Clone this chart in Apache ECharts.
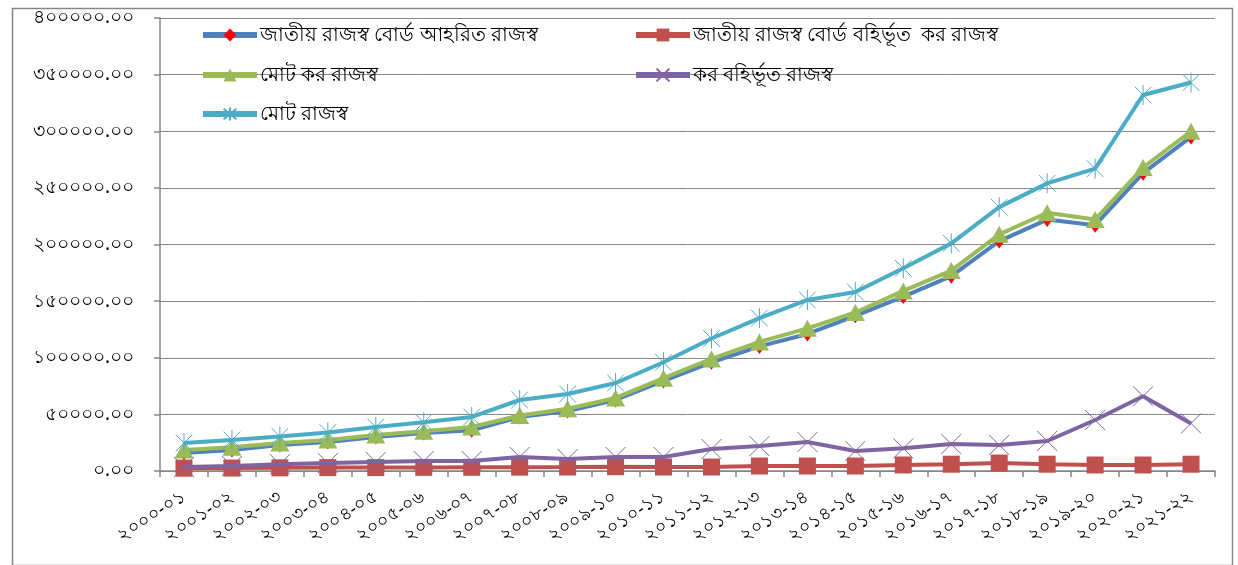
<!DOCTYPE html>
<html>
<head>
<meta charset="utf-8">
<script src="https://cdn.jsdelivr.net/npm/echarts@6/dist/echarts.min.js"></script>
<style>
  html, body { margin: 0; padding: 0; background: #fff; }
  #main { width: 1238px; height: 565px; }
</style>
</head>
<body>
<div id="main"></div>
<script>
var years = ['২০০০-০১', '২০০১-০২', '২০০২-০৩', '২০০৩-০৪', '২০০৪-০৫', '২০০৫-০৬', '২০০৬-০৭', '২০০৭-০৮',
  '২০০৮-০৯', '২০০৯-১০', '২০১০-১১', '২০১১-১২', '২০১২-১৩', '২০১৩-১৪', '২০১৪-১৫', '২০১৫-১৬',
  '২০১৬-১৭', '২০১৭-১৮', '২০১৮-১৯', '২০১৯-২০', '২০২০-২১', '২০২১-২২'];

var nbr = [16000, 18500, 23000, 25600, 30000, 33500, 36000, 47700, 53000, 62700, 79500,
  96000, 110000, 121000, 137000, 154000, 172000, 203000, 222000, 217000, 263000, 295000];
var nonNbrTax = [2500, 2600, 2800, 3000, 3000, 3200, 3300, 3400, 3500, 3800, 3500,
  3500, 4400, 4400, 4400, 5300, 6000, 7000, 6000, 5300, 5300, 6000];
var totalTax = [18500, 21000, 24700, 27400, 31800, 35000, 38900, 49000, 55000, 64500, 82000,
  99000, 114000, 126000, 140000, 159000, 177000, 209000, 228000, 222000, 268000, 300000];
var nonTax = [3500, 4400, 6000, 7000, 8000, 8800, 8800, 12400, 10600, 12400, 12400,
  19400, 22000, 25600, 17700, 20000, 23800, 23000, 26500, 45000, 66000, 42000];
var totalRev = [24700, 27400, 30500, 34000, 38900, 43000, 47700, 62700, 68000, 77700, 96000,
  117000, 135000, 151000, 158000, 179000, 201000, 233000, 254000, 267000, 332000, 343000];

var names = ['জাতীয় রাজস্ব বোর্ড আহরিত রাজস্ব', 'জাতীয় রাজস্ব বোর্ড বহির্ভূত  কর রাজস্ব',
  'মোট কর রাজস্ব', 'কর বহির্ভূত রাজস্ব', 'মোট রাজস্ব'];

var bnDigits = ['০', '১', '২', '৩', '৪', '৫', '৬', '৭', '৮', '৯'];
function toBn(s) {
  return String(s).replace(/[0-9]/g, function (d) { return bnDigits[+d]; });
}

var chart = echarts.init(document.getElementById('main'));
var font = "'Noto Sans', 'DejaVu Sans', sans-serif";

function legendAt(name, left, top) {
  return {
    data: [name], left: left, top: top, itemWidth: 54, itemHeight: 16, padding: 0,
    lineStyle: { width: 6 },
    textStyle: { fontFamily: font, fontSize: 20, color: '#000', padding: [0, 0, 0, -2] }
  };
}

chart.setOption({
  animation: false,
  textStyle: { fontFamily: font },
  graphic: [{
    type: 'rect', left: 10, top: 6,
    shape: { width: 1220, height: 557 },
    style: { fill: 'none', stroke: '#868686', lineWidth: 1.5 }
  }],
  legend: [
    legendAt(names[0], 200, 25),
    legendAt(names[1], 633, 25),
    legendAt(names[2], 200, 65),
    legendAt(names[3], 633, 65),
    legendAt(names[4], 200, 104)
  ],
  grid: { left: 160, right: 23, top: 18, bottom: 94 },
  xAxis: {
    type: 'category',
    data: years,
    boundaryGap: true,
    axisLine: { lineStyle: { color: '#868686', width: 1.5 } },
    axisTick: { show: true, length: 6, lineStyle: { color: '#868686', width: 1.5 } },
    axisLabel: { rotate: 33, interval: 0, color: '#000', fontSize: 18, margin: 24, fontFamily: font }
  },
  yAxis: {
    type: 'value',
    min: 0, max: 400000, interval: 50000,
    axisLine: { show: true, lineStyle: { color: '#868686', width: 1.5 } },
    axisTick: { show: true, length: 6, lineStyle: { color: '#868686', width: 1.5 } },
    splitLine: { lineStyle: { color: '#868686', width: 1 } },
    axisLabel: {
      color: '#000', fontSize: 19, margin: 26, fontFamily: font,
      formatter: function (v) { return toBn(v.toFixed(2)); }
    }
  },
  series: [
    {
      name: names[0], type: 'line', data: nbr, z: 3,
      lineStyle: { color: '#4F81BD', width: 4 },
      itemStyle: { color: '#FF0000' },
      symbol: 'diamond', symbolSize: [11, 15]
    },
    {
      name: names[1], type: 'line', data: nonNbrTax, z: 2,
      lineStyle: { color: '#C0504D', width: 4 },
      itemStyle: { color: '#C0504D' },
      symbol: 'rect', symbolSize: 17
    },
    {
      name: names[2], type: 'line', data: totalTax, z: 4,
      lineStyle: { color: '#9BBB59', width: 4 },
      itemStyle: { color: '#9BBB59' },
      symbol: 'triangle', symbolSize: [19, 17]
    },
    {
      name: names[3], type: 'line', data: nonTax, z: 3,
      lineStyle: { color: '#8064A2', width: 4 },
      itemStyle: { color: '#8064A2', borderColor: '#8064A2', borderWidth: 1 },
      symbol: 'path://M0,0L10,10M10,0L0,10', symbolSize: 20,
      symbolKeepAspect: true
    },
    {
      name: names[4], type: 'line', data: totalRev, z: 5,
      lineStyle: { color: '#4BACC6', width: 4 },
      itemStyle: { color: '#4BACC6', borderColor: '#4BACC6', borderWidth: 1 },
      symbol: 'path://M0,0L10,10M10,0L0,10M5,-1L5,11', symbolSize: 20,
      symbolKeepAspect: true
    }
  ]
});
</script>
</body>
</html>
